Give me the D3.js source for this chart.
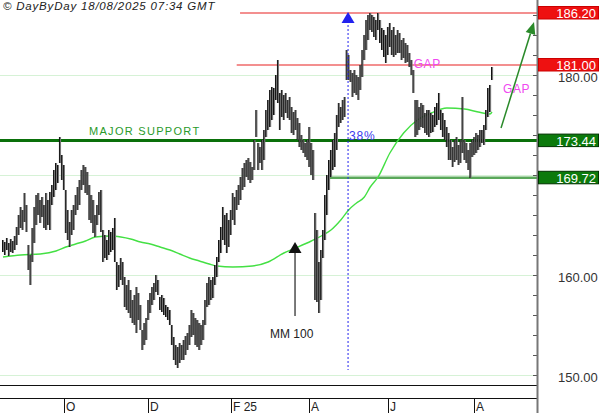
<!DOCTYPE html>
<html><head><meta charset="utf-8">
<script src="https://cdn.jsdelivr.net/npm/d3@7/dist/d3.min.js"></script>
<style>
body{margin:0;background:#fff;}
svg{display:block;}
text{font-family:"Liberation Sans",Arial,sans-serif;}
</style></head>
<body>
<svg id="c" width="600" height="413"></svg>
<script>
// ---- DATA ----
const highs = [163.5,163.3,163.7,163.2,163.6,163.4,163.9,164.8,166.0,166.8,166.5,168.2,167.0,163.0,162.0,164.7,166.8,168.0,168.2,167.5,
167.8,167.0,168.2,167.5,168.3,169.0,170.5,171.2,171.0,173.8,172.0,171.0,168.5,166.5,165.3,166.5,167.0,168.0,168.8,169.5,
170.5,171.0,170.8,170.3,169.0,168.0,167.5,166.0,167.0,168.3,168.5,164.5,164.0,163.5,164.5,164.3,164.7,165.7,161.3,161.0,
161.7,161.3,159.8,159.0,159.5,158.5,157.5,158.0,158.8,158.2,157.0,154.5,155.2,155.7,157.5,158.2,158.8,159.2,160.0,159.5,
157.8,158.0,157.7,157.0,156.8,156.5,155.0,153.8,153.0,152.8,153.2,153.0,153.5,153.9,154.2,155.0,156.5,156.2,155.7,155.5,
155.2,155.0,155.5,157.5,159.2,159.8,159.5,159.8,161.0,161.8,163.5,164.8,166.8,166.0,166.2,165.5,166.5,168.2,167.8,168.5,
169.0,169.8,170.7,171.2,171.5,171.7,171.3,170.8,173.5,176.5,173.2,172.8,173.5,174.5,176.5,177.5,178.5,178.8,178.7,180.0,
181.5,178.2,178.5,178.0,178.2,177.5,177.8,176.8,176.3,176.5,175.7,175.2,174.0,173.5,173.2,173.5,174.8,173.2,172.5,166.2,
164.5,161.3,162.5,164.5,168.0,170.0,171.5,172.5,173.5,174.2,176.0,177.2,176.8,177.5,177.8,182.5,182.0,180.5,180.2,180.5,
180.0,179.8,181.0,182.5,184.0,185.5,186.0,186.2,186.0,185.8,185.5,186.2,185.5,184.7,184.5,184.0,184.8,185.2,184.5,184.8,
184.0,184.5,184.2,183.5,183.7,183.2,183.0,182.2,181.5,180.5,177.5,177.5,176.8,177.2,177.0,176.2,176.5,176.5,176.2,176.0,
176.8,177.2,178.2,176.5,176.2,175.5,174.8,174.2,173.5,172.8,173.5,173.8,173.0,173.5,177.8,173.5,173.2,172.5,173.2,173.5,
173.8,174.2,174.0,174.5,174.5,175.0,176.5,178.7,179.0,180.8];
const lows = [162.3,162.0,162.5,161.9,162.3,162.2,162.5,163.0,164.0,164.7,164.5,165.3,164.3,160.5,159.0,161.3,163.2,165.0,166.0,165.2,
165.8,164.7,164.5,165.0,164.5,167.0,167.8,168.5,169.2,171.2,169.5,168.5,164.2,163.5,162.8,164.0,164.5,166.0,166.5,167.0,
168.5,169.0,168.2,168.0,165.5,165.2,164.2,163.8,165.0,166.0,164.3,161.3,161.7,161.5,162.0,162.3,162.5,161.3,158.5,158.8,
159.5,159.0,156.8,156.5,156.2,155.7,155.2,155.0,154.2,155.5,154.5,152.5,153.0,153.5,155.5,156.2,157.0,157.5,158.3,158.0,
156.5,156.3,156.0,155.8,155.5,155.0,153.0,151.5,151.0,150.7,151.2,151.5,151.5,152.0,152.5,153.0,153.8,154.0,153.0,152.8,
152.5,153.0,153.5,155.0,156.8,157.0,157.5,157.7,159.0,159.8,161.3,162.2,163.5,163.0,162.2,162.8,164.0,165.5,165.0,166.5,
167.0,167.5,168.5,168.8,169.8,169.5,169.2,169.5,170.5,173.8,170.5,171.2,170.5,171.5,173.8,174.5,174.8,175.5,176.0,177.5,
177.2,174.5,175.8,175.5,176.2,175.7,175.5,174.2,174.0,174.5,173.5,172.8,172.5,172.2,171.8,171.5,170.8,170.0,169.5,157.5,
157.3,156.2,157.5,161.7,163.5,166.0,168.5,169.8,170.5,170.8,172.5,174.8,175.2,175.5,175.8,179.5,179.5,179.3,177.8,178.2,
178.0,177.5,178.5,179.8,181.5,182.5,183.5,184.5,184.3,183.8,183.5,184.5,183.2,182.5,181.8,181.2,182.0,182.8,182.0,181.8,
182.0,182.2,182.2,181.5,181.7,181.2,181.3,180.8,180.0,178.2,173.8,174.0,174.5,174.8,174.7,174.2,174.0,173.8,174.2,174.3,
174.8,175.0,175.5,174.5,173.8,173.5,172.8,171.5,171.5,170.8,171.3,171.5,171.0,171.2,172.2,171.5,171.2,170.5,169.7,171.8,
172.0,172.2,172.5,172.8,173.2,173.0,174.5,175.8,176.3,179.5];
// moving average (MM 100) read at sampled bars
const maIdx = [0,9,19,27,32,37,42,47,55,60,65,70,75,80,85,90,95,100,105,109,117,127,135,143,149,157,163,167,172,176,180,184,187,191,197,204,211,218,226,235,242,248,249];
const maVal = [161.8,162.0,162.1,162.4,162.8,163.1,163.4,163.8,163.9,163.8,163.6,163.3,163.1,162.8,162.5,162.1,161.7,161.4,161.1,160.9,160.8,160.9,161.3,162.2,162.7,163.4,164.0,164.5,165.5,166.5,167.2,167.8,168.8,169.8,172.2,174.2,175.5,176.2,176.7,176.6,176.3,176.1,176.3];
const monthLabels = ["O","D","F 25","A","J","A"];
const monthIdx = [31,74,116,156,196,240];
const gridTicks = [150,160,170,180];
const yLabelTicks = [150,160,180];
const minorTicks = [150,152,154,156,158,160,162,164,166,168,170,172,174,176,178,180,182,184,186,188];
const levels = [
  {v:186.20, txt:"186.20", kind:"res", from:120.7},
  {v:181.00, txt:"181.00", kind:"res", from:119},
  {v:173.44, txt:"173.44", kind:"major", from:-2},
  {v:169.72, txt:"169.72", kind:"sup", from:166.5}
];

// ---- SCALES ----
const svg = d3.select("#c");
const axisX = 537;
const x = d3.scaleLinear().domain([0, 249]).range([3, 492]);
const y = d3.scaleLinear().domain([150, 180]).range([375, 75]);

// grid lines
svg.append("g").selectAll("line").data(gridTicks).join("line")
  .attr("x1",0).attr("x2",axisX).attr("y1",d=>y(d)+0.5).attr("y2",d=>y(d)+0.5)
  .attr("stroke","#d6f2d6").attr("stroke-width",1);

// level lines
const lvlColor = {res:"#e82020", major:"#0a700a", sup:"#5aa85a"};
const lvlWidth = {res:1.2, major:3, sup:2.5};
svg.append("g").selectAll("line").data(levels).join("line")
  .attr("x1",d=>Math.max(0,x(d.from))).attr("x2",axisX)
  .attr("y1",d=>y(d.v)).attr("y2",d=>y(d.v))
  .attr("stroke",d=>lvlColor[d.kind]).attr("stroke-width",d=>lvlWidth[d.kind]);

// MA line
const maData = maIdx.map((d,i)=>[d, maVal[i]]);
svg.append("path").datum(maData)
  .attr("d", d3.line().x(d=>x(d[0])).y(d=>y(d[1])).curve(d3.curveMonotoneX))
  .attr("fill","none").attr("stroke","#44e044").attr("stroke-width",1.4);

// price bars
const bars = highs.map((h,i)=>({i, h, l:lows[i]}));
const gb = svg.append("g");
gb.selectAll("rect").data(bars).join("rect")
  .attr("x",d=>x(d.i)-0.5).attr("width",1.6)
  .attr("y",d=>y(d.h)).attr("height",d=>Math.max(1,y(d.l)-y(d.h)))
  .attr("fill","#777");
gb.selectAll("line").data(bars).join("line")
  .attr("x1",d=>x(d.i)-0.5).attr("x2",d=>x(d.i)-0.5)
  .attr("y1",d=>y(d.h)).attr("y2",d=>y(d.l))
  .attr("stroke","#111").attr("stroke-width",1);

// MAJOR SUPPORT text
svg.append("text").attr("x",89).attr("y",y(173.44)-6)
  .attr("font-size",11).attr("letter-spacing",1.3).attr("fill","#2a9a2a").text("MAJOR SUPPORT");

// blue dotted line with arrow (gap day)
const blueIdx = 175.7;
svg.append("line").attr("x1",x(blueIdx)).attr("x2",x(blueIdx))
  .attr("y1",y(185.4)).attr("y2",y(150.5))
  .attr("stroke","#2222ee").attr("stroke-width",1).attr("stroke-dasharray","2,2");
svg.append("path")
  .attr("d",`M${x(blueIdx)-6.5},${y(185.2)} L${x(blueIdx)+6.5},${y(185.2)} L${x(blueIdx)},${y(186.3)} Z`)
  .attr("fill","#2222ee");
svg.append("text").attr("x",x(blueIdx)+1).attr("y",y(173.44)-1)
  .attr("font-size",12).attr("letter-spacing",0.8).attr("fill","#3a3aee").text("38%");

// MM 100 arrow
const mmIdx = 148.7;
svg.append("line").attr("x1",x(mmIdx)).attr("x2",x(mmIdx))
  .attr("y1",y(162.3)).attr("y2",y(155.9)).attr("stroke","#222").attr("stroke-width",1.2);
svg.append("path")
  .attr("d",`M${x(mmIdx)-6.5},${y(162.2)} L${x(mmIdx)+6.5},${y(162.2)} L${x(mmIdx)},${y(163.3)} Z`)
  .attr("fill","#111");
svg.append("text").attr("x",x(mmIdx)-25).attr("y",y(153.7))
  .attr("font-size",12).attr("fill","#222").text("MM 100");

// GAP labels
svg.append("text").attr("x",x(209.1)).attr("y",y(180.7))
  .attr("font-size",12).attr("letter-spacing",0.6).attr("fill","#f048f0").text("GAP");
svg.append("text").attr("x",x(254.6)).attr("y",y(178.2))
  .attr("font-size",12).attr("letter-spacing",0.6).attr("fill","#f048f0").text("GAP");

// green projected arrow
const ax1 = x(253.6), ay1 = y(174.7), ax2 = x(270.4), ay2 = y(185.3);
const ang = Math.atan2(ay2-ay1, ax2-ax1);
const hl = 12, hw = 5;
const bx = ax2 - hl*Math.cos(ang), by = ay2 - hl*Math.sin(ang);
svg.append("line").attr("x1",ax1).attr("y1",ay1).attr("x2",bx).attr("y2",by)
  .attr("stroke","#2a8a2a").attr("stroke-width",1.5);
svg.append("path")
  .attr("d",`M${ax2},${ay2} L${bx+hw*Math.sin(ang)},${by-hw*Math.cos(ang)} L${bx-hw*Math.sin(ang)},${by+hw*Math.cos(ang)} Z`)
  .attr("fill","#2a8a2a");

// bottom panel lines
svg.append("line").attr("x1",0).attr("x2",axisX).attr("y1",385.5).attr("y2",385.5).attr("stroke","#111");
svg.append("line").attr("x1",0).attr("x2",axisX).attr("y1",398.5).attr("y2",398.5).attr("stroke","#111");
const gm = svg.append("g");
gm.selectAll("line").data(monthIdx).join("line")
  .attr("x1",d=>Math.round(x(d))+0.5).attr("x2",d=>Math.round(x(d))+0.5)
  .attr("y1",399).attr("y2",413).attr("stroke","#111");
gm.selectAll("text").data(monthIdx).join("text")
  .attr("x",d=>Math.round(x(d))+2).attr("y",411)
  .attr("font-size",12).attr("fill","#222").text((d,i)=>monthLabels[i]);

// right axis: minor ticks
const gAxis = svg.append("g").attr("transform",`translate(${axisX},0)`)
  .call(d3.axisLeft(y).tickValues(minorTicks).tickSize(4).tickFormat(""));
gAxis.select(".domain").remove();
gAxis.selectAll(".tick line").attr("stroke","#555");
svg.append("line").attr("x1",axisX+0.5).attr("x2",axisX+0.5).attr("y1",0).attr("y2",413)
  .attr("stroke","#777").attr("stroke-width",2);

// right axis labels
const gLab = svg.append("g").attr("transform",`translate(${axisX},0)`)
  .call(d3.axisRight(y).tickValues(yLabelTicks).tickSize(0).tickPadding(21).tickFormat(d3.format(".2f")));
gLab.select(".domain").remove();
gLab.selectAll("text").attr("font-size",13).attr("fill","#333").attr("dy","0.5em")
  .attr("font-family","Liberation Sans, Arial, sans-serif");

// level boxes
const boxFill = {res:"#ee1111", major:"#0c7a0c", sup:"#0c7a0c"};
const boxStroke = {res:"#cc0000", major:"#003300", sup:"#003300"};
const gbx = svg.append("g").selectAll("g").data(levels).join("g")
  .attr("transform",d=>`translate(${axisX+1},${y(d.v)})`);
gbx.append("rect").attr("x",0.5).attr("y",-6.5).attr("width",60).attr("height",12.5)
  .attr("fill",d=>boxFill[d.kind]).attr("stroke",d=>boxStroke[d.kind]);
gbx.append("text").attr("x",58).attr("y",5).attr("text-anchor","end")
  .attr("font-size",13).attr("fill","#fff").text(d=>d.txt);

// header
svg.append("text").attr("x",3).attr("y",10).attr("font-size",11.5).attr("font-style","italic")
  .attr("letter-spacing",0.8).attr("fill","#222").text("© DayByDay 18/08/2025  07:34 GMT");
</script>
</body></html>
